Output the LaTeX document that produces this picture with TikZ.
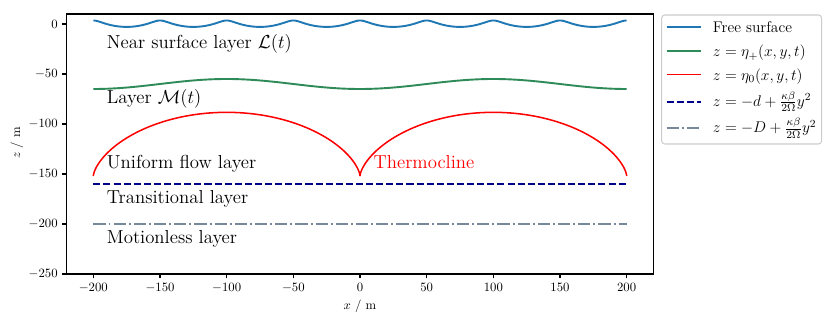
\RequirePackage{fix-cm}
\documentclass[tikz,border=0pt]{standalone}
\usepackage{fontspec}
\usepackage{amsmath}
\definecolor{tabblue}{HTML}{1F77B4}
\definecolor{seagreenc}{HTML}{2E8B57}
\definecolor{darkbluec}{HTML}{00008B}
\definecolor{slategrayc}{HTML}{778899}
\definecolor{legedge}{gray}{0.8}
\tikzset{
  ticklab/.style={font=\fontsize{10}{12}\selectfont, inner sep=0pt},
  annot/.style={font=\fontsize{14.8}{18}\selectfont, inner sep=0pt, anchor=base west},
  legtext/.style={font=\fontsize{12.2}{14}\selectfont, inner sep=0pt, anchor=base west},
  surfline/.style={tabblue, line width=1.5pt, line join=round},
  etaplusline/.style={seagreenc, line width=1.5pt},
  etazeroline/.style={red, line width=1.2pt, line join=miter},
  dline/.style={darkbluec, line width=1.5pt, dash pattern=on 5.55pt off 2.4pt},
  bigDline/.style={slategrayc, line width=1.5pt, dash pattern=on 9.6pt off 2.4pt on 1.5pt off 2.4pt},
  spine/.style={line width=0.8pt},
  tickmark/.style={line width=0.8pt},
}
\begin{document}
\begin{tikzpicture}[x=0.787pt,y=0.787pt]
\useasboundingbox (0,0) rectangle (831,323);

% ---------- data curves ----------
\begin{scope}[x=1.049333pt,y=0.787pt,shift={(283.32pt,235.313pt)}]
  % free surface (trochoid)
  \draw[surfline] plot[domain=-200:200, samples=801, variable=\t]
    ({\t - 3.3*sin(7.2*\t)}, {0.3 + 3.2*cos(7.2*\t)});
  % eta_+
  \draw[etaplusline] plot[domain=-200:200, samples=201, variable=\t]
    (\t, {-60 - 5*cos(1.8*\t)});
  % eta_0 (cycloid arches)
  \draw[etazeroline] plot[domain=0:720, samples=401, variable=\t]
    ({-200 + 31.831*(rad(\t) - sin(\t))}, {-152 + 31.831*(1 - cos(\t))});
  % z = -d + ...
  \coordinate (dA) at (-200,-160);
  \coordinate (dB) at (200,-160);
  \draw[dline] (dA) -- (dB);
  % z = -D + ...
  \coordinate (DA) at (-200,-200);
  \coordinate (DB) at (200,-200);
  \draw[bigDline] (DA) -- (DB);

  % annotations
  \node[annot] (tnear) at (-190,-25) {Near surface layer $\mathcal{L}(t)$};
  \node[annot] (tlayerM) at (-190,-80) {Layer $\mathcal{M}(t)$};
  \node[annot] (tuniform) at (-190,-145) {Uniform flow layer};
  \node[annot, text=red] (tthermo) at (10,-145) {Thermocline};
  \node[annot] (ttrans) at (-190,-180) {Transitional layer};
  \node[annot] (tmotion) at (-190,-220) {Motionless layer};
\end{scope}

% ---------- axes ----------
\draw[spine] (66.67,49) rectangle (653.33,309);

\foreach \v [count=\i] in {-200,-150,-100,-50,0,50,100,150,200} {
  \draw[tickmark] ({360+1.333333*\v},49) -- ({360+1.333333*\v},44.6);
  \node[ticklab, anchor=north] (xt\i) at ({360+1.333333*\v},40.2) {$\v$};
}
\foreach \v [count=\i] in {0,-50,-100,-150,-200,-250} {
  \draw[tickmark] (66.67,{299+\v}) -- (62.27,{299+\v});
  \node[ticklab, anchor=east] (yt\i) at (57.9,{299+\v}) {$\v$};
}
\node[ticklab] (xlab) at (360,17) {$x$ / m};
\node[ticklab, rotate=90] (ylab) at (17,180) {$z$ / m};

% ---------- legend ----------
\draw[legedge, fill=white, line width=0.8pt, rounded corners=2.5pt]
  (661.7,179) rectangle (821.7,308);
\draw[surfline] (666.7,296.3) -- (700.7,296.3);
\node[legtext] (l1) at (712.7,290.3) {Free surface};
\draw[etaplusline] (666.7,272) -- (700.7,272);
\node[legtext] (l2) at (712.7,266) {$z=\eta_+(x,y,t)$};
\draw[etazeroline] (666.7,248.7) -- (700.7,248.7);
\node[legtext] (l3) at (712.7,242.7) {$z=\eta_0(x,y,t)$};
\draw[dline] (666.7,221.3) -- (700.7,221.3);
\node[legtext] (l4) at (712.7,216.8) {$z=-d+\frac{\kappa\beta}{2\Omega}y^2$};
\draw[bigDline] (666.7,194.7) -- (700.7,194.7);
\node[legtext] (l5) at (712.7,190.2) {$z=-D+\frac{\kappa\beta}{2\Omega}y^2$};
\end{tikzpicture}
\end{document}
